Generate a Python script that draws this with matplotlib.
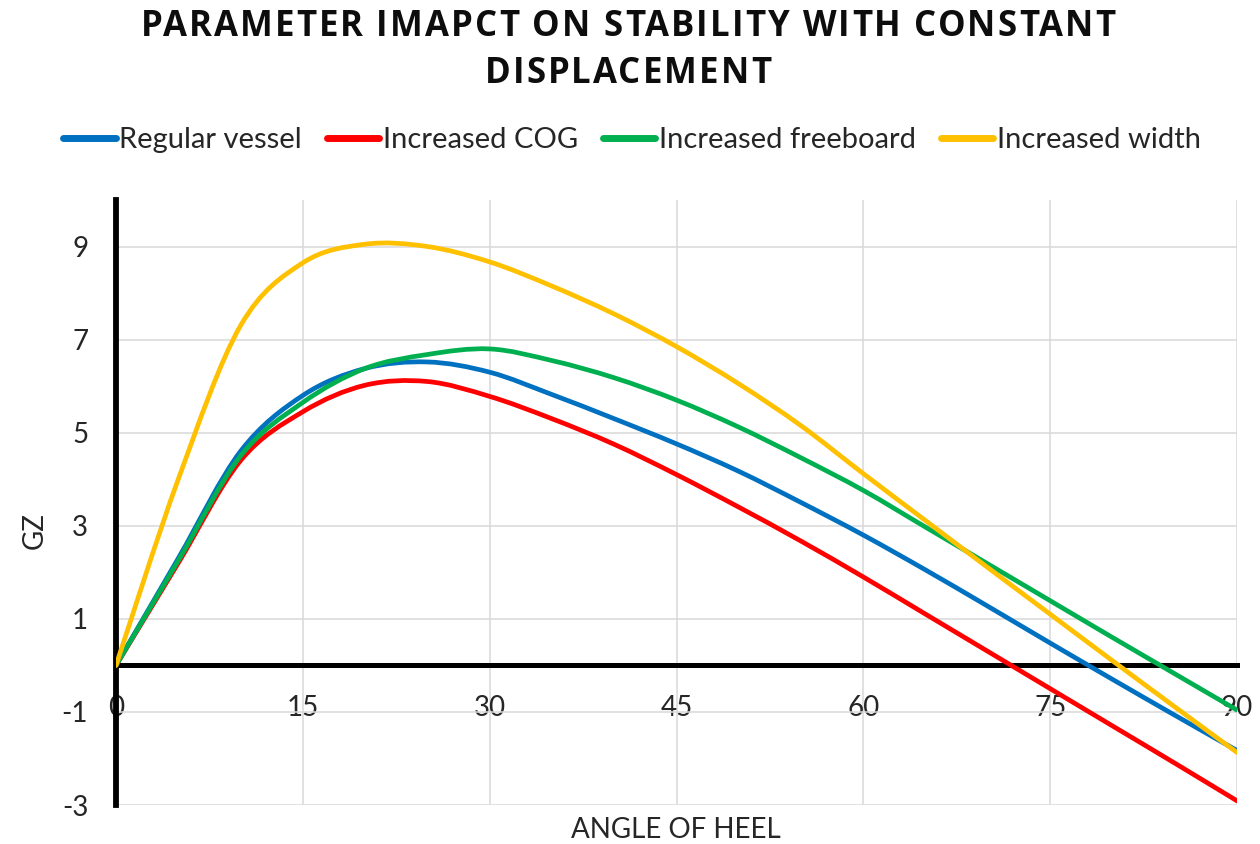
import matplotlib
matplotlib.use("Agg")
import matplotlib.pyplot as plt
from matplotlib.path import Path
from matplotlib.patches import PathPatch
from matplotlib.lines import Line2D

plt.rcParams["axes.unicode_minus"] = False

# Heel angle (degrees) and righting arm GZ for each vessel variant
angles = [0, 5, 10, 15, 20, 25, 30, 35, 40, 45, 50, 55, 60, 65, 70, 75, 80, 85, 90]
regular_vessel = [0, 2.3, 4.6, 5.8, 6.38, 6.52, 6.3, 5.82, 5.3, 4.76, 4.17, 3.5,
                  2.8, 2.05, 1.27, 0.48, -0.3, -1.07, -1.83]
increased_cog = [0, 2.2, 4.4, 5.45, 6.02, 6.1, 5.78, 5.3, 4.75, 4.1, 3.4, 2.67,
                 1.9, 1.1, 0.3, -0.5, -1.3, -2.1, -2.91]
increased_freeboard = [0, 2.25, 4.5, 5.65, 6.38, 6.68, 6.8, 6.55, 6.18, 5.7, 5.12, 4.46,
                       3.76, 2.97, 2.18, 1.39, 0.6, -0.18, -0.96]
increased_width = [0, 4.0, 7.3, 8.65, 9.05, 9.0, 8.67, 8.15, 7.55, 6.85, 6.05, 5.15,
                   4.12, 3.11, 2.1, 1.1, 0.1, -0.89, -1.87]

series_names = ["Regular vessel", "Increased COG", "Increased freeboard", "Increased width"]
series_values = [regular_vessel, increased_cog, increased_freeboard, increased_width]
series_colors = ["#0070C0", "#FF0000", "#00B050", "#FFC000"]

x_ticks = [0, 15, 30, 45, 60, 75, 90]
y_ticks = [-3, -1, 1, 3, 5, 7, 9]

title_lines = ["PARAMETER IMAPCT ON STABILITY WITH CONSTANT", "DISPLACEMENT"]

TEXT_FONT = "Lato"
TITLE_FONT = "Open Sans"


def smooth_path(xs, ys):
    """Smoothed line through the points, as cubic Bezier segments (Catmull-Rom)."""
    pts = list(zip(xs, ys))
    n = len(pts)
    verts = [pts[0]]
    codes = [Path.MOVETO]
    for i in range(n - 1):
        p0 = pts[max(i - 1, 0)]
        p1 = pts[i]
        p2 = pts[i + 1]
        p3 = pts[min(i + 2, n - 1)]
        c1 = (p1[0] + (p2[0] - p0[0]) / 6.0, p1[1] + (p2[1] - p0[1]) / 6.0)
        c2 = (p2[0] - (p3[0] - p1[0]) / 6.0, p2[1] - (p3[1] - p1[1]) / 6.0)
        verts += [c1, c2, p2]
        codes += [Path.CURVE4] * 3
    return Path(verts, codes)


W, H = 1260, 844
fig = plt.figure(figsize=(W / 100, H / 100), dpi=100)
fig.patch.set_facecolor("white")
renderer = fig.canvas.get_renderer()


def text_width(s, **kw):
    t = fig.text(0, 0, s, **kw)
    w = t.get_window_extent(renderer).width
    t.remove()
    return w


def spaced_title(s, xc_px, baseline_px, spacing_px, **kw):
    """Draw a line of text centred at xc_px with extra tracking between letters."""
    total = text_width(s, **kw) + spacing_px * (len(s) - 1)
    left = xc_px - total / 2.0
    for i, ch in enumerate(s):
        if ch == " ":
            continue
        x = left + text_width(s[:i + 1], **kw) - text_width(ch, **kw) + spacing_px * i
        fig.text(x / W, 1 - baseline_px / H, ch, ha="left", va="baseline", **kw)


ax = fig.add_axes([116 / W, 1 - 805 / H, (1237 - 116) / W, (805 - 200) / H])
ax.set_xlim(0, 90)
ax.set_ylim(-3, 10)
ax.set_xticks(x_ticks)
ax.set_yticks(y_ticks)
ax.grid(True, color="#d9d9d9", linewidth=1.1, zorder=0)
ax.set_axisbelow(True)

for name, vals, col in zip(series_names, series_values, series_colors):
    patch = PathPatch(smooth_path(angles, vals), facecolor="none", edgecolor=col,
                      linewidth=3.4, capstyle="round", joinstyle="round", zorder=3)
    ax.add_patch(patch)

# Axis lines: vertical at zero heel, horizontal at GZ = 0
for side in ("top", "right"):
    ax.spines[side].set_visible(False)
ax.spines["left"].set_linewidth(4.2)
ax.spines["left"].set_color("black")
ax.spines["left"].set_zorder(2)
ax.spines["bottom"].set_position(("data", 0))
ax.spines["bottom"].set_linewidth(3.6)
ax.spines["bottom"].set_color("black")
ax.spines["bottom"].set_zorder(2)

ax.tick_params(axis="both", length=0, labelsize=20, labelcolor="#262626")
ax.tick_params(axis="x", pad=21)
ax.tick_params(axis="y", pad=20)
for lbl in ax.get_xticklabels() + ax.get_yticklabels():
    lbl.set_fontfamily(TEXT_FONT)

# Title, letter-spaced
title_kw = dict(fontsize=25, fontweight="bold", family=TITLE_FONT, color="#0d0d0d")
spaced_title(title_lines[0], 628, 36, 2.1, **title_kw)
spaced_title(title_lines[1], 628, 83, 2.1, **title_kw)

# Axis titles
fig.text(35 / W, 1 - 531 / H, "GZ", rotation=90, ha="center", va="center",
         fontsize=20, family=TEXT_FONT, color="#262626")
fig.text(676 / W, 1 - 830 / H, "ANGLE OF HEEL", ha="center", va="center",
         fontsize=20, family=TEXT_FONT, color="#262626")

# Legend
handles = [Line2D([], [], color=c, linewidth=5, solid_capstyle="round") for c in series_colors]
leg = fig.legend(handles, series_names, loc="center", bbox_to_anchor=(632 / W, 1 - 140 / H),
                 ncol=4, frameon=False, handlelength=1.8, handletextpad=0.12,
                 columnspacing=0.85, prop={"family": TEXT_FONT, "size": 21})
for t in leg.get_texts():
    t.set_color("#262626")

fig.savefig("out.png", dpi=100, facecolor="white")
